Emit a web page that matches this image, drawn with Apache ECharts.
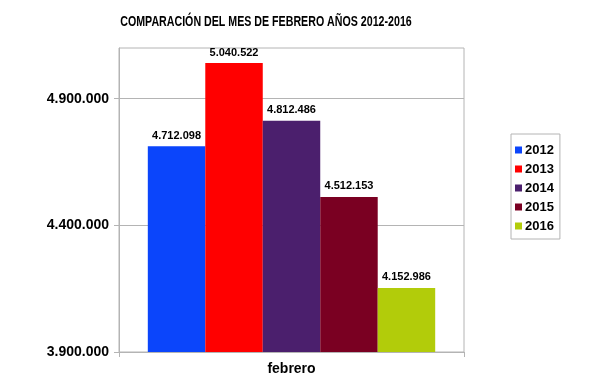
<!DOCTYPE html>
<html>
<head>
<meta charset="utf-8">
<script src="https://cdn.jsdelivr.net/npm/echarts@6/dist/echarts.min.js"></script>
<style>
  html, body { margin: 0; padding: 0; background: #fff; }
  #chart { width: 594px; height: 377px; }
</style>
</head>
<body>
<div id="chart"></div>
<script>
// datos
var categories = ["febrero"];
var years = ["2012", "2013", "2014", "2015", "2016"];
var values = [4712098, 5040522, 4812486, 4512153, 4152986];
var yTicks = [3900000, 4400000, 4900000];
var colors = ["#0b45fb", "#ff0000", "#4b1f6d", "#7a0022", "#b2cc0a"];

var FONT = "Liberation Sans";

// 4712098 -> 4.712.098
function puntos(v) {
  return String(Math.round(v)).replace(/\B(?=(\d{3})+(?!\d))/g, ".");
}

var series = years.map(function (y, i) {
  return {
    name: y,
    type: "bar",
    data: [values[i]],
    barGap: "0%",
    barCategoryGap: "16.7%",
    itemStyle: { color: colors[i] },
    label: {
      show: true,
      position: "top",
      distance: 5,
      color: "#000",
      fontFamily: FONT,
      fontWeight: "bold",
      fontSize: 11,
      formatter: function (p) { return puntos(p.value); }
    }
  };
});

var chart = echarts.init(document.getElementById("chart"));
chart.setOption({
  animation: false,
  backgroundColor: "#fff",
  graphic: [{
    type: "text",
    x: 266,
    y: 22,
    scaleX: 0.71,
    style: {
      text: "COMPARACIÓN DEL MES DE FEBRERO AÑOS 2012-2016",
      font: "bold 15px " + FONT,
      fill: "#000",
      textAlign: "center",
      textVerticalAlign: "middle"
    }
  }],
  legend: {
    orient: "vertical",
    left: 511,
    top: 134,
    padding: [9, 6, 6, 4],
    borderColor: "#b4b4b4",
    borderWidth: 1,
    backgroundColor: "#fff",
    icon: "rect",
    itemWidth: 7,
    itemHeight: 7,
    itemGap: 5,
    textStyle: {
      color: "#000",
      fontFamily: FONT,
      fontWeight: "bold",
      fontSize: 13,
      lineHeight: 14,
      padding: [0, 0, 0, -2]
    },
    data: years
  },
  grid: {
    left: 119,
    right: 130,
    top: 48,
    bottom: 25,
    show: true,
    borderColor: "#b4b4b4",
    borderWidth: 1,
    containLabel: false
  },
  xAxis: {
    type: "category",
    data: categories,
    axisLine: { lineStyle: { color: "#b4b4b4" } },
    axisTick: { show: true, length: 5, lineStyle: { color: "#b4b4b4" } },
    axisLabel: {
      color: "#000",
      fontFamily: FONT,
      fontWeight: "bold",
      fontSize: 14,
      margin: 10
    }
  },
  yAxis: {
    type: "value",
    min: 3900000,
    max: 5100000,
    axisLine: { show: true, lineStyle: { color: "#b4b4b4" } },
    axisTick: { show: true, length: 5, customValues: yTicks, lineStyle: { color: "#b4b4b4" } },
    splitLine: { show: true, lineStyle: { color: "#b4b4b4" } },
    axisLabel: {
      customValues: yTicks,
      color: "#000",
      fontFamily: FONT,
      fontWeight: "bold",
      fontSize: 14,
      margin: 10,
      formatter: function (v) { return puntos(v); }
    }
  },
  series: series
});
</script>
</body>
</html>
